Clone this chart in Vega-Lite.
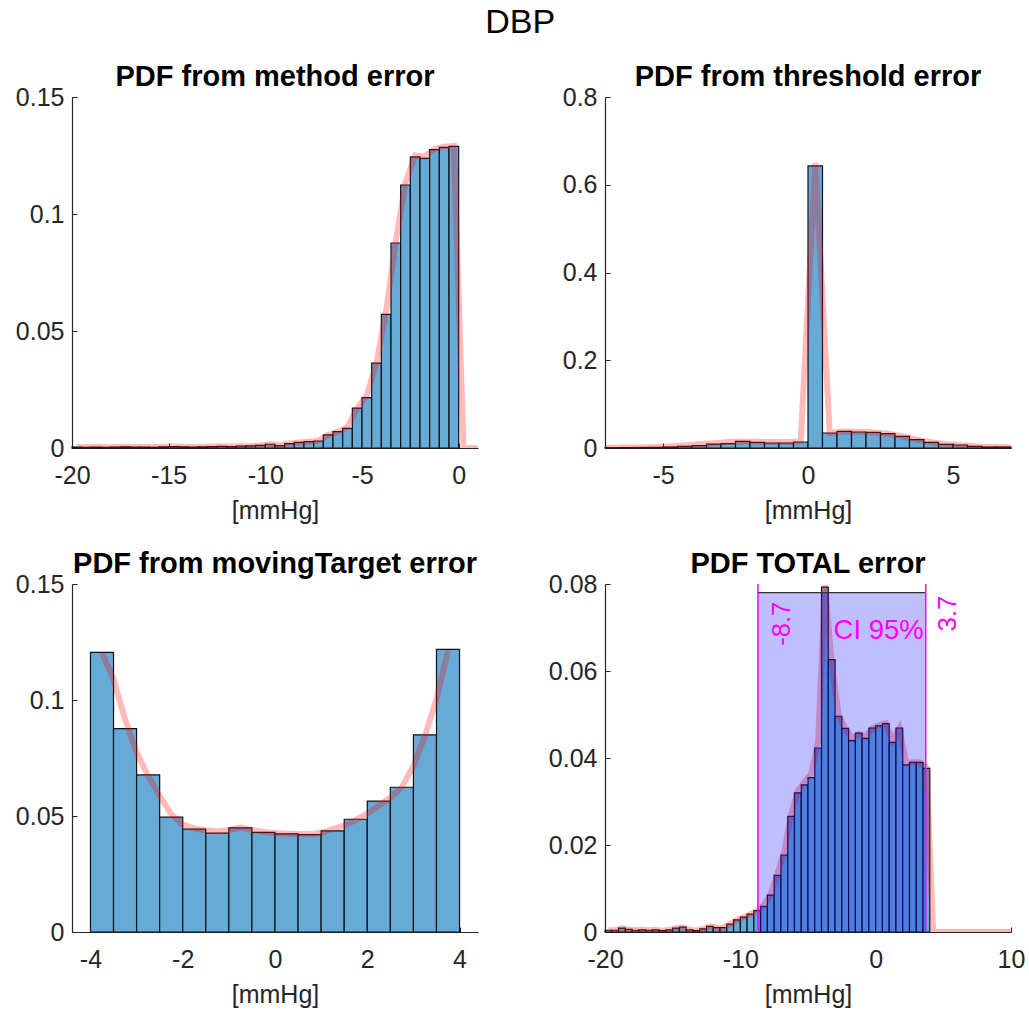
{
  "$schema": "https://vega.github.io/schema/vega-lite/v6.json",
  "background": "white",
  "padding": {"left": 15, "top": 6, "right": 10, "bottom": 5},
  "title": {"text": "DBP", "fontSize": 34, "fontWeight": "normal", "anchor": "middle", "frame": "bounds", "color": "#000000", "offset": 23, "dx": 0},
  "bounds": "flush",
  "columns": 2,
  "spacing": {"row": 136, "column": 127},
  "datasets": {
    "m_bars": [
      {"lo": -20, "hi": -19.5, "v": 0.0004}, {"lo": -19.5, "hi": -19, "v": 0.0003}, {"lo": -19, "hi": -18.5, "v": 0.0004}, {"lo": -18.5, "hi": -18, "v": 0.0003},
      {"lo": -18, "hi": -17.5, "v": 0.0004}, {"lo": -17.5, "hi": -17, "v": 0.0005}, {"lo": -17, "hi": -16.5, "v": 0.0004}, {"lo": -16.5, "hi": -16, "v": 0.0004},
      {"lo": -16, "hi": -15.5, "v": 0.0003}, {"lo": -15.5, "hi": -15, "v": 0.0005}, {"lo": -15, "hi": -14.5, "v": 0.0006}, {"lo": -14.5, "hi": -14, "v": 0.0005},
      {"lo": -14, "hi": -13.5, "v": 0.0004}, {"lo": -13.5, "hi": -13, "v": 0.0005}, {"lo": -13, "hi": -12.5, "v": 0.0006}, {"lo": -12.5, "hi": -12, "v": 0.0007},
      {"lo": -12, "hi": -11.5, "v": 0.0006}, {"lo": -11.5, "hi": -11, "v": 0.0008}, {"lo": -11, "hi": -10.5, "v": 0.0009}, {"lo": -10.5, "hi": -10, "v": 0.0011},
      {"lo": -10, "hi": -9.5, "v": 0.0016}, {"lo": -9.5, "hi": -9, "v": 0.0010}, {"lo": -9, "hi": -8.5, "v": 0.0019}, {"lo": -8.5, "hi": -8, "v": 0.0024},
      {"lo": -8, "hi": -7.5, "v": 0.0027}, {"lo": -7.5, "hi": -7, "v": 0.0030}, {"lo": -7, "hi": -6.5, "v": 0.0056}, {"lo": -6.5, "hi": -6, "v": 0.0070},
      {"lo": -6, "hi": -5.5, "v": 0.0084}, {"lo": -5.5, "hi": -5, "v": 0.0170}, {"lo": -5, "hi": -4.5, "v": 0.0215}, {"lo": -4.5, "hi": -4, "v": 0.0363},
      {"lo": -4, "hi": -3.5, "v": 0.0571}, {"lo": -3.5, "hi": -3, "v": 0.0876}, {"lo": -3, "hi": -2.5, "v": 0.1124}, {"lo": -2.5, "hi": -2, "v": 0.1244},
      {"lo": -2, "hi": -1.5, "v": 0.1238}, {"lo": -1.5, "hi": -1, "v": 0.1275}, {"lo": -1, "hi": -0.5, "v": 0.1285}, {"lo": -0.5, "hi": 0, "v": 0.1289}
    ],
    "m_pdf": [
      {"x": -19.75, "y": 0.0004}, {"x": -19.25, "y": 0.0003}, {"x": -18.75, "y": 0.0004}, {"x": -18.25, "y": 0.0003},
      {"x": -17.75, "y": 0.0004}, {"x": -17.25, "y": 0.0005}, {"x": -16.75, "y": 0.0004}, {"x": -16.25, "y": 0.0004},
      {"x": -15.75, "y": 0.0003}, {"x": -15.25, "y": 0.0005}, {"x": -14.75, "y": 0.0006}, {"x": -14.25, "y": 0.0005},
      {"x": -13.75, "y": 0.0004}, {"x": -13.25, "y": 0.0005}, {"x": -12.75, "y": 0.0006}, {"x": -12.25, "y": 0.0007},
      {"x": -11.75, "y": 0.0006}, {"x": -11.25, "y": 0.0008}, {"x": -10.75, "y": 0.0009}, {"x": -10.25, "y": 0.0011},
      {"x": -9.75, "y": 0.0016}, {"x": -9.25, "y": 0.0012}, {"x": -8.75, "y": 0.0019}, {"x": -8.25, "y": 0.0024},
      {"x": -7.75, "y": 0.0027}, {"x": -7.25, "y": 0.0032}, {"x": -6.75, "y": 0.0056}, {"x": -6.25, "y": 0.0070},
      {"x": -5.75, "y": 0.0090}, {"x": -5.25, "y": 0.0170}, {"x": -4.75, "y": 0.0225}, {"x": -4.25, "y": 0.0363},
      {"x": -3.75, "y": 0.0585}, {"x": -3.25, "y": 0.0885}, {"x": -2.75, "y": 0.1135}, {"x": -2.25, "y": 0.1250},
      {"x": -1.75, "y": 0.1245}, {"x": -1.25, "y": 0.1278}, {"x": -0.75, "y": 0.1288}, {"x": -0.25, "y": 0.1291},
      {"x": 0.25, "y": 0}, {"x": 1.25, "y": 0}
    ],
    "t_bars": [
      {"lo": -7, "hi": -6.5, "v": 0.0008}, {"lo": -6.5, "hi": -6, "v": 0.0010}, {"lo": -6, "hi": -5.5, "v": 0.0012}, {"lo": -5.5, "hi": -5, "v": 0.0015},
      {"lo": -5, "hi": -4.5, "v": 0.0023}, {"lo": -4.5, "hi": -4, "v": 0.0038}, {"lo": -4, "hi": -3.5, "v": 0.0053}, {"lo": -3.5, "hi": -3, "v": 0.0090},
      {"lo": -3, "hi": -2.5, "v": 0.0099}, {"lo": -2.5, "hi": -2, "v": 0.0152}, {"lo": -2, "hi": -1.5, "v": 0.0130}, {"lo": -1.5, "hi": -1, "v": 0.0114},
      {"lo": -1, "hi": -0.5, "v": 0.0114}, {"lo": -0.5, "hi": 0, "v": 0.0137}, {"lo": 0, "hi": 0.5, "v": 0.643}, {"lo": 0.5, "hi": 1, "v": 0.0342},
      {"lo": 1, "hi": 1.5, "v": 0.0380}, {"lo": 1.5, "hi": 2, "v": 0.0365}, {"lo": 2, "hi": 2.5, "v": 0.0357}, {"lo": 2.5, "hi": 3, "v": 0.0327},
      {"lo": 3, "hi": 3.5, "v": 0.0266}, {"lo": 3.5, "hi": 4, "v": 0.0190}, {"lo": 4, "hi": 4.5, "v": 0.0129}, {"lo": 4.5, "hi": 5, "v": 0.0084},
      {"lo": 5, "hi": 5.5, "v": 0.0068}, {"lo": 5.5, "hi": 6, "v": 0.0038}, {"lo": 6, "hi": 6.5, "v": 0.0023}, {"lo": 6.5, "hi": 7, "v": 0.0023}
    ],
    "t_pdf": [
      {"x": -7.25, "y": 0.0008}, {"x": -6.75, "y": 0.0009}, {"x": -6.25, "y": 0.0011}, {"x": -5.75, "y": 0.0014}, {"x": -5.25, "y": 0.0021},
      {"x": -4.75, "y": 0.0035}, {"x": -4.25, "y": 0.0055}, {"x": -3.75, "y": 0.0085}, {"x": -3.25, "y": 0.0110},
      {"x": -2.75, "y": 0.0135}, {"x": -2.25, "y": 0.0150}, {"x": -1.75, "y": 0.0140}, {"x": -1.25, "y": 0.0135},
      {"x": -0.75, "y": 0.0138}, {"x": -0.25, "y": 0.0150}, {"x": 0.25, "y": 0.650}, {"x": 0.75, "y": 0.0345},
      {"x": 1.25, "y": 0.0378}, {"x": 1.75, "y": 0.0368}, {"x": 2.25, "y": 0.0355}, {"x": 2.75, "y": 0.0325},
      {"x": 3.25, "y": 0.0268}, {"x": 3.75, "y": 0.0192}, {"x": 4.25, "y": 0.0130}, {"x": 4.75, "y": 0.0088},
      {"x": 5.25, "y": 0.0065}, {"x": 5.75, "y": 0.0040}, {"x": 6.25, "y": 0.0025}, {"x": 6.75, "y": 0.0020}, {"x": 7.25, "y": 0.0018}
    ],
    "g_bars": [
      {"lo": -4, "hi": -3.5, "v": 0.1205}, {"lo": -3.5, "hi": -3, "v": 0.0877}, {"lo": -3, "hi": -2.5, "v": 0.0677}, {"lo": -2.5, "hi": -2, "v": 0.0495},
      {"lo": -2, "hi": -1.5, "v": 0.0443}, {"lo": -1.5, "hi": -1, "v": 0.0426}, {"lo": -1, "hi": -0.5, "v": 0.0449}, {"lo": -0.5, "hi": 0, "v": 0.0429},
      {"lo": 0, "hi": 0.5, "v": 0.0423}, {"lo": 0.5, "hi": 1, "v": 0.0420}, {"lo": 1, "hi": 1.5, "v": 0.0436}, {"lo": 1.5, "hi": 2, "v": 0.0486},
      {"lo": 2, "hi": 2.5, "v": 0.0564}, {"lo": 2.5, "hi": 3, "v": 0.0624}, {"lo": 3, "hi": 3.5, "v": 0.0850}, {"lo": 3.5, "hi": 4, "v": 0.1218}
    ],
    "g_pdf": [
      {"x": -3.75, "y": 0.1202}, {"x": -3.5, "y": 0.1090}, {"x": -3.25, "y": 0.0917}, {"x": -3.0, "y": 0.0774},
      {"x": -2.75, "y": 0.0673}, {"x": -2.5, "y": 0.0587}, {"x": -2.25, "y": 0.0508}, {"x": -2.0, "y": 0.0464},
      {"x": -1.75, "y": 0.0446}, {"x": -1.5, "y": 0.0438}, {"x": -1.25, "y": 0.0434}, {"x": -1.0, "y": 0.0440},
      {"x": -0.75, "y": 0.0450}, {"x": -0.5, "y": 0.0440}, {"x": -0.25, "y": 0.0431}, {"x": 0.0, "y": 0.0427},
      {"x": 0.25, "y": 0.0424}, {"x": 0.5, "y": 0.0422}, {"x": 0.75, "y": 0.0421}, {"x": 1.0, "y": 0.0428},
      {"x": 1.25, "y": 0.0443}, {"x": 1.5, "y": 0.0460}, {"x": 1.75, "y": 0.0483}, {"x": 2.0, "y": 0.0510},
      {"x": 2.25, "y": 0.0544}, {"x": 2.5, "y": 0.0580}, {"x": 2.75, "y": 0.0623}, {"x": 3.0, "y": 0.0716},
      {"x": 3.25, "y": 0.0846}, {"x": 3.5, "y": 0.1004}, {"x": 3.75, "y": 0.1212}
    ],
    "o_bars": [
      {"lo": -20, "hi": -19.5, "v": 0.0004}, {"lo": -19.5, "hi": -19, "v": 0.0004}, {"lo": -19, "hi": -18.5, "v": 0.0009}, {"lo": -18.5, "hi": -18, "v": 0.0006},
      {"lo": -18, "hi": -17.5, "v": 0.0004}, {"lo": -17.5, "hi": -17, "v": 0.0005}, {"lo": -17, "hi": -16.5, "v": 0.0004}, {"lo": -16.5, "hi": -16, "v": 0.0005},
      {"lo": -16, "hi": -15.5, "v": 0.0003}, {"lo": -15.5, "hi": -15, "v": 0.0005}, {"lo": -15, "hi": -14.5, "v": 0.0009}, {"lo": -14.5, "hi": -14, "v": 0.0011},
      {"lo": -14, "hi": -13.5, "v": 0.0005}, {"lo": -13.5, "hi": -13, "v": 0.0003}, {"lo": -13, "hi": -12.5, "v": 0.0007}, {"lo": -12.5, "hi": -12, "v": 0.0013},
      {"lo": -12, "hi": -11.5, "v": 0.0010}, {"lo": -11.5, "hi": -11, "v": 0.0010}, {"lo": -11, "hi": -10.5, "v": 0.0018}, {"lo": -10.5, "hi": -10, "v": 0.0028},
      {"lo": -10, "hi": -9.5, "v": 0.0034}, {"lo": -9.5, "hi": -9, "v": 0.0041}, {"lo": -9, "hi": -8.5, "v": 0.0049}, {"lo": -8.5, "hi": -8, "v": 0.0059},
      {"lo": -8, "hi": -7.5, "v": 0.0085}, {"lo": -7.5, "hi": -7, "v": 0.0130}, {"lo": -7, "hi": -6.5, "v": 0.0177}, {"lo": -6.5, "hi": -6, "v": 0.0266},
      {"lo": -6, "hi": -5.5, "v": 0.0320}, {"lo": -5.5, "hi": -5, "v": 0.0338}, {"lo": -5, "hi": -4.5, "v": 0.0355}, {"lo": -4.5, "hi": -4, "v": 0.0423},
      {"lo": -4, "hi": -3.5, "v": 0.0793}, {"lo": -3.5, "hi": -3, "v": 0.0626}, {"lo": -3, "hi": -2.5, "v": 0.0496}, {"lo": -2.5, "hi": -2, "v": 0.0468},
      {"lo": -2, "hi": -1.5, "v": 0.0440}, {"lo": -1.5, "hi": -1, "v": 0.0457}, {"lo": -1, "hi": -0.5, "v": 0.0445}, {"lo": -0.5, "hi": 0, "v": 0.0469},
      {"lo": 0, "hi": 0.5, "v": 0.0474}, {"lo": 0.5, "hi": 1, "v": 0.0479}, {"lo": 1, "hi": 1.5, "v": 0.0436}, {"lo": 1.5, "hi": 2, "v": 0.0469},
      {"lo": 2, "hi": 2.5, "v": 0.0384}, {"lo": 2.5, "hi": 3, "v": 0.0390}, {"lo": 3, "hi": 3.5, "v": 0.0390}, {"lo": 3.5, "hi": 4, "v": 0.0376}
    ],
    "o_pdf": [
      {"x": -19.75, "y": 0.0004}, {"x": -19.25, "y": 0.0004}, {"x": -18.75, "y": 0.0009}, {"x": -18.25, "y": 0.0006},
      {"x": -17.75, "y": 0.0004}, {"x": -17.25, "y": 0.0005}, {"x": -16.75, "y": 0.0004}, {"x": -16.25, "y": 0.0005},
      {"x": -15.75, "y": 0.0003}, {"x": -15.25, "y": 0.0005}, {"x": -14.75, "y": 0.0009}, {"x": -14.25, "y": 0.0011},
      {"x": -13.75, "y": 0.0005}, {"x": -13.25, "y": 0.0003}, {"x": -12.75, "y": 0.0007}, {"x": -12.25, "y": 0.0013},
      {"x": -11.75, "y": 0.0010}, {"x": -11.25, "y": 0.0010}, {"x": -10.75, "y": 0.0018}, {"x": -10.25, "y": 0.0028},
      {"x": -9.75, "y": 0.0034}, {"x": -9.25, "y": 0.0041}, {"x": -8.75, "y": 0.0049}, {"x": -8.25, "y": 0.0062},
      {"x": -7.75, "y": 0.0088}, {"x": -7.25, "y": 0.0135}, {"x": -6.75, "y": 0.0185}, {"x": -6.25, "y": 0.0270},
      {"x": -5.75, "y": 0.0325}, {"x": -5.25, "y": 0.0345}, {"x": -4.75, "y": 0.0365}, {"x": -4.25, "y": 0.0440},
      {"x": -3.75, "y": 0.0797}, {"x": -3.25, "y": 0.0620}, {"x": -2.75, "y": 0.0500}, {"x": -2.25, "y": 0.0468},
      {"x": -1.75, "y": 0.0445}, {"x": -1.25, "y": 0.0455}, {"x": -0.75, "y": 0.0448}, {"x": -0.25, "y": 0.0468},
      {"x": 0.25, "y": 0.0475}, {"x": 0.75, "y": 0.0480}, {"x": 1.25, "y": 0.0440}, {"x": 1.75, "y": 0.0468},
      {"x": 2.25, "y": 0.0388}, {"x": 2.75, "y": 0.0390}, {"x": 3.25, "y": 0.0390}, {"x": 3.75, "y": 0.0378},
      {"x": 4.25, "y": 0}, {"x": 10.25, "y": 0}
    ],
    "ci": [
      {"lo": -8.7, "hi": 3.7, "top": 0.078, "loLabel": "-8.7", "hiLabel": "3.7", "label": "CI 95%"}
    ]
  },
  "concat": [
    {
      "width": 406, "height": 351,
      "title": {"text": "PDF from method error"},
      "layer": [
        {
          "data": {"name": "m_bars"},
          "mark": {"type": "rect", "fill": "#66AAD7", "stroke": "#111111", "strokeWidth": 1.2},
          "encoding": {
            "x": {"field": "lo", "type": "quantitative", "scale": {"domain": [-20, 1], "nice": false, "zero": false}, "axis": {"values": [-20, -15, -10, -5, 0], "format": "~g", "title": "[mmHg]"}},
            "x2": {"field": "hi"},
            "y": {"field": "v", "type": "quantitative", "scale": {"domain": [0, 0.15], "nice": false}, "axis": {"values": [0, 0.05, 0.1, 0.15], "format": "~g", "title": null}},
            "y2": {"datum": 0}
          }
        },
        {
          "data": {"name": "m_pdf"},
          "mark": {"type": "line", "stroke": "#ff0000", "strokeOpacity": 0.27, "strokeWidth": 6, "clip": true},
          "encoding": {
            "x": {"field": "x", "type": "quantitative", "title": "[mmHg]"},
            "y": {"field": "y", "type": "quantitative", "title": null}
          }
        }
      ]
    },
    {
      "width": 406, "height": 351,
      "title": {"text": "PDF from threshold error"},
      "layer": [
        {
          "data": {"name": "t_bars"},
          "mark": {"type": "rect", "fill": "#66AAD7", "stroke": "#111111", "strokeWidth": 1.2},
          "encoding": {
            "x": {"field": "lo", "type": "quantitative", "scale": {"domain": [-7, 7], "nice": false, "zero": false}, "axis": {"values": [-5, 0, 5], "format": "~g", "title": "[mmHg]"}},
            "x2": {"field": "hi"},
            "y": {"field": "v", "type": "quantitative", "scale": {"domain": [0, 0.8], "nice": false}, "axis": {"values": [0, 0.2, 0.4, 0.6, 0.8], "format": "~g", "title": null}},
            "y2": {"datum": 0}
          }
        },
        {
          "data": {"name": "t_pdf"},
          "mark": {"type": "line", "stroke": "#ff0000", "strokeOpacity": 0.27, "strokeWidth": 6, "clip": true},
          "encoding": {
            "x": {"field": "x", "type": "quantitative", "title": "[mmHg]"},
            "y": {"field": "y", "type": "quantitative", "title": null}
          }
        }
      ]
    },
    {
      "width": 406, "height": 348,
      "title": {"text": "PDF from movingTarget error"},
      "layer": [
        {
          "data": {"name": "g_bars"},
          "mark": {"type": "rect", "fill": "#66AAD7", "stroke": "#111111", "strokeWidth": 1.2},
          "encoding": {
            "x": {"field": "lo", "type": "quantitative", "scale": {"domain": [-4.4, 4.4], "nice": false, "zero": false}, "axis": {"values": [-4, -2, 0, 2, 4], "format": "~g", "title": "[mmHg]"}},
            "x2": {"field": "hi"},
            "y": {"field": "v", "type": "quantitative", "scale": {"domain": [0, 0.15], "nice": false}, "axis": {"values": [0, 0.05, 0.1, 0.15], "format": "~g", "title": null}},
            "y2": {"datum": 0}
          }
        },
        {
          "data": {"name": "g_pdf"},
          "mark": {"type": "line", "stroke": "#ff0000", "strokeOpacity": 0.27, "strokeWidth": 6, "clip": true},
          "encoding": {
            "x": {"field": "x", "type": "quantitative", "title": "[mmHg]"},
            "y": {"field": "y", "type": "quantitative", "title": null}
          }
        }
      ]
    },
    {
      "width": 406, "height": 348,
      "title": {"text": "PDF TOTAL error"},
      "layer": [
        {
          "data": {"name": "o_bars"},
          "mark": {"type": "rect", "fill": "#66AAD7", "stroke": "#111111", "strokeWidth": 1.2},
          "encoding": {
            "x": {"field": "lo", "type": "quantitative", "scale": {"domain": [-20, 10], "nice": false, "zero": false}, "axis": {"values": [-20, -10, 0, 10], "format": "~g", "title": "[mmHg]"}},
            "x2": {"field": "hi"},
            "y": {"field": "v", "type": "quantitative", "scale": {"domain": [0, 0.08], "nice": false}, "axis": {"values": [0, 0.02, 0.04, 0.06, 0.08], "format": "~g", "title": null}},
            "y2": {"datum": 0}
          }
        },
        {
          "data": {"name": "o_pdf"},
          "mark": {"type": "line", "stroke": "#ff0000", "strokeOpacity": 0.27, "strokeWidth": 6, "clip": true},
          "encoding": {
            "x": {"field": "x", "type": "quantitative", "title": "[mmHg]"},
            "y": {"field": "y", "type": "quantitative", "title": null}
          }
        },
        {
          "data": {"name": "ci"},
          "mark": {"type": "rect", "fill": "#0000ff", "fillOpacity": 0.25},
          "encoding": {
            "x": {"field": "lo", "type": "quantitative", "title": "[mmHg]"},
            "x2": {"field": "hi"},
            "y": {"field": "top", "type": "quantitative", "title": null},
            "y2": {"datum": 0}
          }
        },
        {
          "data": {"name": "ci"},
          "mark": {"type": "rule", "color": "#333333", "strokeWidth": 1.3},
          "encoding": {
            "x": {"field": "lo", "type": "quantitative", "title": "[mmHg]"},
            "x2": {"field": "hi"},
            "y": {"field": "top", "type": "quantitative", "title": null}
          }
        },
        {
          "data": {"name": "ci"},
          "mark": {"type": "rule", "color": "#ff00ff", "strokeWidth": 1.5},
          "encoding": {
            "x": {"field": "lo", "type": "quantitative", "title": "[mmHg]"},
            "y": {"datum": 0.08},
            "y2": {"datum": 0}
          }
        },
        {
          "data": {"name": "ci"},
          "mark": {"type": "rule", "color": "#ff00ff", "strokeWidth": 1.5},
          "encoding": {
            "x": {"field": "hi", "type": "quantitative", "title": "[mmHg]"},
            "y": {"datum": 0.08},
            "y2": {"datum": 0}
          }
        },
        {
          "data": {"name": "ci"},
          "mark": {"type": "text", "angle": 270, "align": "right", "baseline": "middle", "color": "#ff00ff", "fontSize": 25.5, "font": "Liberation Sans", "dx": -9, "dy": 24},
          "encoding": {
            "x": {"field": "lo", "type": "quantitative", "title": "[mmHg]"},
            "y": {"field": "top", "type": "quantitative", "title": null},
            "text": {"field": "loLabel"}
          }
        },
        {
          "data": {"name": "ci"},
          "mark": {"type": "text", "angle": 270, "align": "right", "baseline": "middle", "color": "#ff00ff", "fontSize": 25.5, "font": "Liberation Sans", "dx": -3, "dy": 22},
          "encoding": {
            "x": {"field": "hi", "type": "quantitative", "title": "[mmHg]"},
            "y": {"field": "top", "type": "quantitative", "title": null},
            "text": {"field": "hiLabel"}
          }
        },
        {
          "data": {"name": "ci"},
          "mark": {"type": "text", "align": "right", "baseline": "alphabetic", "color": "#ff00ff", "fontSize": 27.5, "font": "Liberation Sans", "dx": -2, "dy": 46},
          "encoding": {
            "x": {"field": "hi", "type": "quantitative", "title": "[mmHg]"},
            "y": {"field": "top", "type": "quantitative", "title": null},
            "text": {"field": "label"}
          }
        }
      ]
    }
  ],
  "config": {
    "locale": {"number": {"decimal": ".", "thousands": ",", "grouping": [3], "currency": ["$", ""], "minus": "-"}},
    "view": {"stroke": null},
    "font": "Liberation Sans",
    "axis": {
      "grid": false,
      "domainColor": "#262626",
      "tickColor": "#262626",
      "labelColor": "#262626",
      "titleColor": "#262626",
      "labelFont": "Liberation Sans",
      "titleFont": "Liberation Sans",
      "labelFontSize": 25,
      "titleFontSize": 25,
      "titleFontWeight": "normal",
      "tickSize": -5,
      "tickWidth": 1,
      "domainWidth": 1.2,
      "labelPadding": 13,
      "labelFlush": false,
      "labelOverlap": false,
      "titlePadding": 10
    },
    "axisX": {"labelPadding": 20},
    "title": {"font": "Liberation Sans", "fontSize": 29, "fontWeight": "bold", "color": "#000000", "offset": -7, "frame": "group", "anchor": "middle"}
  }
}
